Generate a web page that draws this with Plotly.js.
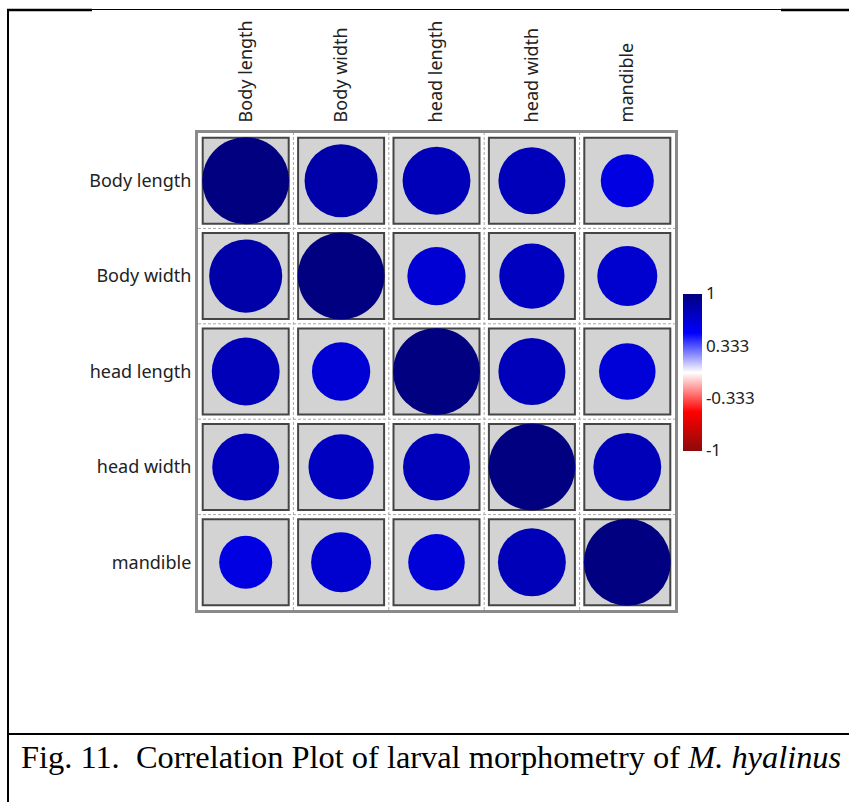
<!DOCTYPE html>
<html><head><meta charset="utf-8">
<script src="https://cdn.plot.ly/plotly-3.0.1.min.js"></script>
<style>html,body{margin:0;padding:0;background:#fff;overflow:hidden;} #chart{width:849px;height:802px;}</style>
</head><body><div id="chart"></div>
<script>
// ---- data ----
const variables = ['Body length', 'Body width', 'head length', 'head width', 'mandible'];
const rBodyLength = [1.00, 0.84, 0.78, 0.77, 0.61];
const rBodyWidth  = [0.84, 1.00, 0.67, 0.75, 0.69];
const rHeadLength = [0.78, 0.67, 1.00, 0.77, 0.65];
const rHeadWidth  = [0.77, 0.75, 0.77, 1.00, 0.78];
const rMandible   = [0.61, 0.69, 0.65, 0.78, 1.00];
const colorbarTickVals = [1, 0.333, -0.333, -1];
const colorbarTickText = ['1', '0.333', '-0.333', '-1'];
const captionText = 'Fig. 11.\u00a0 Correlation Plot of larval morphometry of <i>M. hyalinus</i>';

// ---- geometry ----
const W = 849, H = 802;
const ML = 198, MR = 849 - 675, MT = 133, MB = 802 - 610;
const PW = W - ML - MR, PH = H - MT - MB;
const fx = p => (p - ML) / PW;
const fy = p => (H - MB - p) / PH;

const rows = [rBodyLength, rBodyWidth, rHeadLength, rHeadWidth, rMandible];
const cx = [], cy = [], cr = [];
rows.forEach((row, i) => row.forEach((v, j) => { cx.push(j); cy.push(i); cr.push(v); }));

const cellSize = 86;
const circleScale = 87;

const cells = {
  type: 'scatter', mode: 'markers', x: cx, y: cy, hoverinfo: 'skip', showlegend: false,
  marker: {symbol: 'square', size: cellSize, opacity: 1, color: '#d3d3d3', line: {color: '#454545', width: 2}}
};
const circles = {
  type: 'scatter', mode: 'markers', x: cx, y: cy, hoverinfo: 'skip', showlegend: false,
  marker: {
    symbol: 'circle', size: cr.map(v => Math.abs(v) * circleScale), color: cr, opacity: 1,
    cmin: -1, cmax: 1, line: {width: 0},
    colorscale: [[0, 'rgb(140,10,10)'], [0.25, 'rgb(255,0,0)'], [0.5, 'rgb(255,255,255)'], [0.75, 'rgb(0,0,255)'], [1, 'rgb(0,0,128)']],
    showscale: true,
    colorbar: {
      x: fx(683), xanchor: 'left', xpad: 0, y: fy(372), yanchor: 'middle', ypad: 0,
      len: 157, lenmode: 'pixels', thickness: 19, outlinewidth: 0,
      tickmode: 'array', tickvals: colorbarTickVals, ticktext: colorbarTickText, ticks: '',
      tickfont: {family: 'Noto Sans', size: 17, color: '#222'}
    }
  }
};

const shapes = [];
for (let k = 1; k < variables.length; k++) {
  shapes.push({type: 'line', xref: 'x', yref: 'paper', x0: k - 0.5, x1: k - 0.5, y0: 0, y1: 1, layer: 'below', line: {color: '#a8a8a8', width: 1, dash: '3px,2px'}});
  shapes.push({type: 'line', xref: 'paper', yref: 'y', x0: 0, x1: 1, y0: k - 0.5, y1: k - 0.5, layer: 'below', line: {color: '#a8a8a8', width: 1, dash: '3px,2px'}});
}
// page frame lines
const pl = (x0, y0, x1, y1, w) => shapes.push({type: 'line', xref: 'paper', yref: 'paper', x0: fx(x0), x1: fx(x1), y0: fy(y0), y1: fy(y1), line: {color: '#000', width: w}});
pl(8, 9, 8, 802, 2);
pl(7, 10, 92, 10, 2.5);
pl(92, 9.5, 781, 9.5, 1);
pl(781, 10, 849, 10, 2.5);
pl(8, 734, 849, 734, 2);

const axisCommon = {
  range: [-0.5, 4.5], tickmode: 'array', tickvals: variables.map((_, i) => i), ticktext: variables,
  showgrid: false, zeroline: false, showline: true, mirror: true, linecolor: '#8a8a8a', linewidth: 3,
  ticks: '', tickfont: {family: 'Noto Sans', size: 18, color: '#222'}, fixedrange: true
};

const layout = {
  width: W, height: H, margin: {l: ML, r: MR, t: MT, b: MB, pad: 0},
  paper_bgcolor: '#fff', plot_bgcolor: '#fff', showlegend: false,
  xaxis: Object.assign({}, axisCommon, {side: 'top', tickangle: -90, ticklabelstandoff: 4}),
  yaxis: Object.assign({}, axisCommon, {range: [4.5, -0.5], ticklabelstandoff: 0}),
  shapes: shapes,
  annotations: [{
    xref: 'paper', yref: 'paper', x: fx(19), y: fy(757), xanchor: 'left', yanchor: 'middle',
    text: captionText, showarrow: false, font: {family: 'Liberation Serif', size: 32.4, color: '#000'}
  }]
};

Plotly.newPlot('chart', [cells, circles], layout, {displayModeBar: false, staticPlot: true});
</script>
</body></html>
